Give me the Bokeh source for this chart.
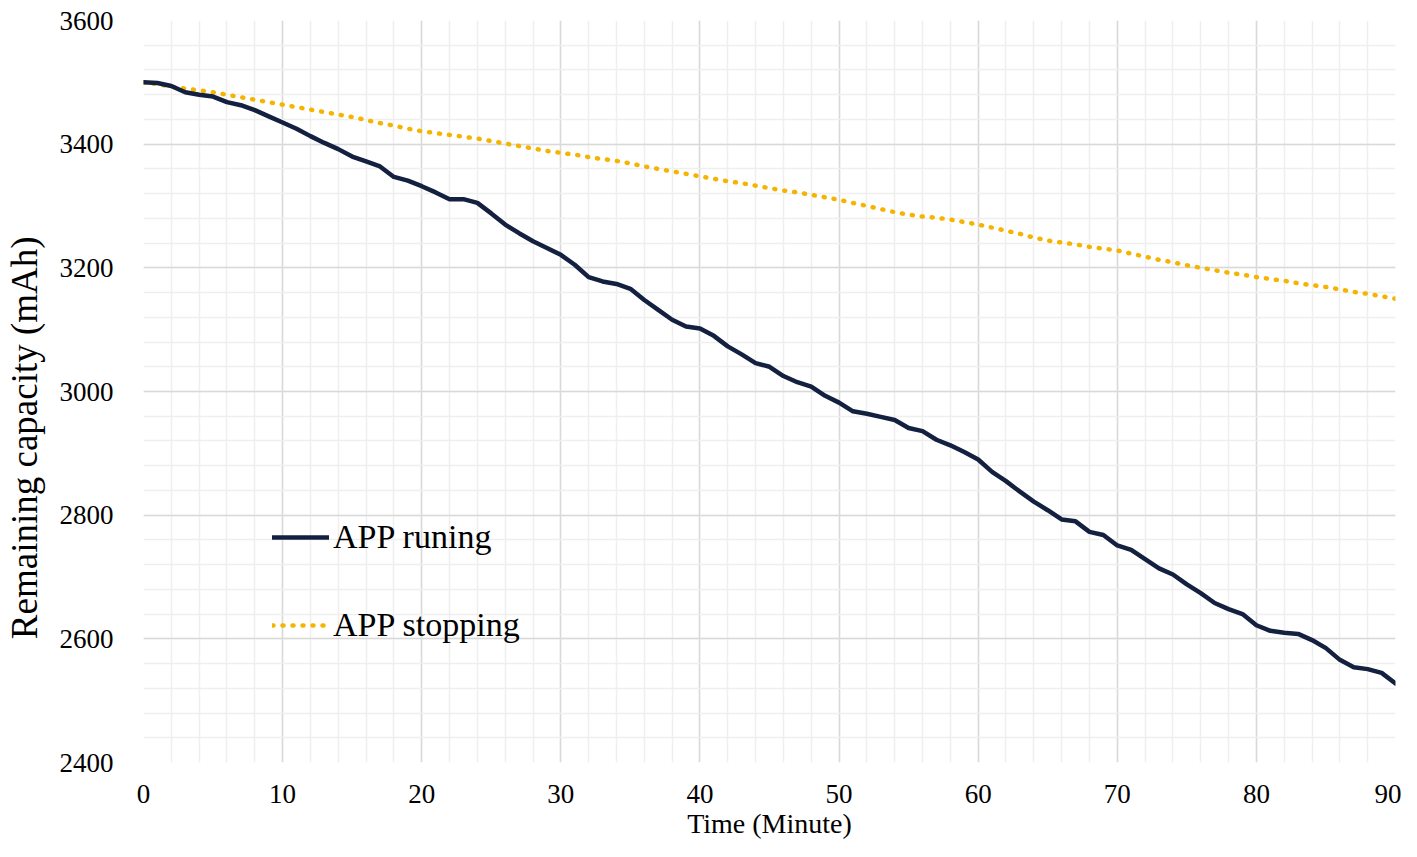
from bokeh.plotting import figure
from bokeh.models import (Range1d, SingleIntervalTicker, Legend, LegendItem)
from bokeh.embed import file_html
from bokeh.resources import INLINE

minutes = list(range(0, 91))

app_running = [
    3500, 3499, 3494, 3484, 3480, 3477, 3468, 3463, 3455, 3445,
    3435, 3425, 3413, 3402, 3392, 3380, 3372, 3364, 3347, 3341,
    3332, 3322, 3311, 3311, 3305, 3288, 3270, 3256, 3243, 3232,
    3221, 3205, 3185, 3178, 3174, 3166, 3148, 3132, 3116, 3105,
    3102, 3090, 3073, 3060, 3046, 3040, 3025, 3015, 3008, 2993,
    2982, 2968, 2964, 2959, 2954, 2941, 2936, 2922, 2913, 2902,
    2890, 2870, 2855, 2838, 2822, 2808, 2793, 2790, 2773, 2768,
    2751, 2744, 2729, 2714, 2704, 2688, 2674, 2658, 2648, 2640,
    2622, 2613, 2610, 2608, 2598, 2585, 2566, 2554, 2551, 2545,
    2528,
]

app_stopping = [
    3500, 3497, 3493, 3490, 3487, 3484, 3480, 3476, 3472, 3468,
    3464, 3460, 3456, 3452, 3448, 3444, 3439, 3434, 3430, 3425,
    3421, 3418, 3415, 3412, 3409, 3405, 3401, 3397, 3393, 3389,
    3386, 3383, 3379, 3376, 3373, 3369, 3364, 3360, 3356, 3352,
    3348, 3344, 3340, 3337, 3333, 3329, 3325, 3322, 3318, 3314,
    3310, 3305, 3300, 3295, 3290, 3286, 3283, 3281, 3278, 3274,
    3270, 3265, 3260, 3255, 3249, 3244, 3241, 3238, 3234, 3231,
    3228, 3223, 3218, 3213, 3209, 3204, 3200, 3196, 3192, 3189,
    3185, 3182, 3179, 3175, 3172, 3169, 3165, 3161, 3158, 3154,
    3150,
]

series_labels = ["APP runing", "APP stopping"]
x_title = "Time (Minute)"
y_title = "Remaining capacity (mAh)"

FONT = "Liberation Serif"

p = figure(width=1401, height=841, output_backend="svg", toolbar_location=None,
           x_range=Range1d(0, 90), y_range=Range1d(2400, 3600),
           min_border_left=131, min_border_right=6, min_border_top=20,
           min_border_bottom=70)
p.outline_line_color = None
p.background_fill_color = "white"

p.xaxis.ticker = SingleIntervalTicker(interval=10, num_minor_ticks=5)
p.yaxis.ticker = SingleIntervalTicker(interval=200, num_minor_ticks=5)

for ax in (p.xaxis[0], p.yaxis[0]):
    ax.axis_line_color = None
    ax.major_tick_line_color = None
    ax.minor_tick_line_color = None
    ax.major_label_text_font = FONT
    ax.major_label_text_font_size = "27px"
    ax.major_label_text_color = "black"
    ax.axis_label_text_font = FONT
    ax.axis_label_text_font_style = "normal"
    ax.axis_label_text_color = "black"

p.xaxis.axis_label = x_title
p.xaxis.axis_label_text_font_size = "28px"
p.xaxis.major_label_standoff = 16
p.xaxis.axis_label_standoff = 2

p.yaxis.axis_label = y_title + "\u00a0" * 10
p.yaxis.axis_label_text_font_size = "37px"
p.yaxis.major_label_standoff = 24
p.yaxis.axis_label_standoff = 12

for g in (p.xgrid[0], p.ygrid[0]):
    g.grid_line_color = "#d9d9d9"
    g.grid_line_width = 1.5
    g.minor_grid_line_color = "#efefef"
    g.minor_grid_line_width = 1.5

r_stop = p.line(minutes, app_stopping, line_color="#F4B400", line_width=4.5,
                line_dash="1 9", line_cap="round")
r_run = p.line(minutes, app_running, line_color="#13203F", line_width=4.5,
               line_join="round", line_cap="round")

legend = Legend(items=[LegendItem(label=series_labels[0], renderers=[r_run]),
                       LegendItem(label=series_labels[1], renderers=[r_stop])],
                location=(129, 117), orientation="vertical")
legend.label_text_font = FONT
legend.label_text_font_size = "34px"
legend.label_text_color = "black"
legend.glyph_width = 57
legend.glyph_height = 40
legend.label_standoff = 4
legend.spacing = 48
legend.padding = 0
legend.margin = 0
legend.border_line_color = None
legend.background_fill_alpha = 0
p.add_layout(legend, "center")

open("out.html", "w").write(file_html(p, INLINE))
